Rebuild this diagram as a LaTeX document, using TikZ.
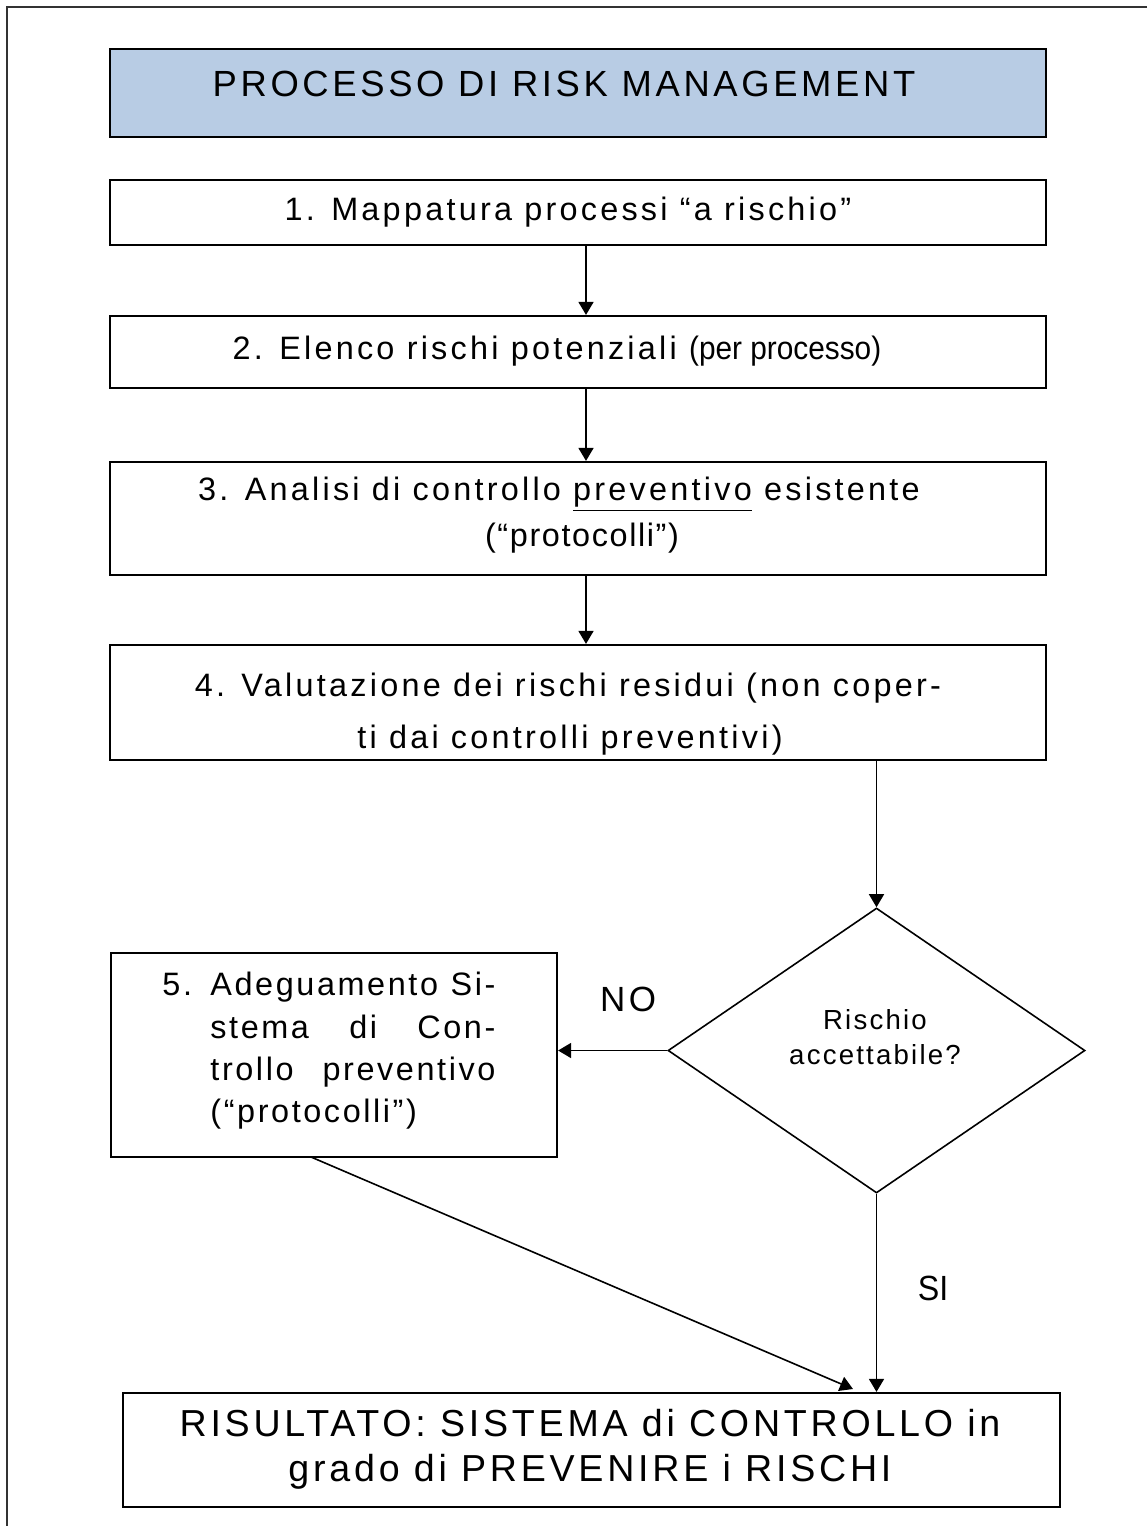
\documentclass[tikz,border=0pt]{standalone}
\usepackage{fontspec}
\setmainfont{Liberation Sans}
\newfontfamily\fsp[LetterSpace=10]{Liberation Sans}
\newfontfamily\fspb[LetterSpace=8]{Liberation Sans}
\newfontfamily\fsps[LetterSpace=5]{Liberation Sans}
\newfontfamily\fnar[FakeStretch=0.92]{Liberation Sans}
\usetikzlibrary{arrows.meta,shapes.geometric}
\definecolor{titlebg}{HTML}{B8CCE4}
\tikzset{
  box/.style={draw, line width=1.1pt, rectangle, inner sep=0pt},
  con/.style={line width=0.8pt, -{Triangle[length=6.5pt,width=7.5pt]}},
  txt/.style={inner sep=0pt, align=center, font=\fsp\fontsize{16.2pt}{22pt}\selectfont},
  bigtxt/.style={inner sep=0pt, align=center, font=\fsp\fontsize{18.2pt}{22.5pt}\selectfont},
  restxt/.style={inner sep=0pt, align=center, font=\fsp\fontsize{18.8pt}{22.5pt}\selectfont},
  smalltxt/.style={inner sep=0pt, align=center, font=\fspb\fontsize{13.8pt}{17.5pt}\selectfont},
  frame/.style={line width=1.2pt, black!80}
}
\begin{document}
\begin{tikzpicture}[x=0.5pt,y=-0.5pt]
\useasboundingbox (0,0) rectangle (1147,1526);
\draw[frame] (1147,7) -- (7,7) -- (7,1526);

% title
\node[box, fill=titlebg, minimum width=468pt, minimum height=44pt] (title) at (578,93) {};
\node[bigtxt] (titlet) at (564,84) {PROCESSO DI RISK MANAGEMENT};

% box 1
\node[box, minimum width=468pt, minimum height=32.5pt] (b1) at (578,212.5) {};
\node[txt] (b1t) at (568,212) {1. Mappatura processi “a rischio”};

% box 2
\node[box, minimum width=468pt, minimum height=36pt] (b2) at (578,352) {};
\node[txt] (b2t) at (557,351) {2. Elenco rischi potenziali {\fnar(per processo)}};

% box 3
\node[box, minimum width=468pt, minimum height=56.5pt] (b3) at (578,518.5) {};
\node[txt] (b3a) at (559,494) {3. Analisi di controllo \underline{preventivo} esistente};
\node[txt, font=\fsps\fontsize{16.2pt}{22pt}\selectfont] (b3b) at (582,538) {(“protocolli”)};

% box 4
\node[box, minimum width=468pt, minimum height=57.5pt] (b4) at (578,702.5) {};
\node[txt] (b4a) at (568,688) {4. Valutazione dei rischi residui (non coper-};
\node[txt] (b4b) at (570,740) {ti dai controlli preventivi)};

% decision
\node[draw, diamond, line width=0.8pt, inner sep=0pt, minimum width=208.5pt, minimum height=142.5pt] (dia) at (876.5,1050.5) {};
\node[smalltxt] (diat) at (875,1037) {Rischio\\accettabile?};

% box 5
\node[box, minimum width=223pt, minimum height=102pt] (b5) at (334,1055) {};
\node[inner sep=0pt, align=left, anchor=west, font=\fspb\fontsize{16.2pt}{21.2pt}\selectfont] (b5t) at (162,1051)
 {\makebox[24pt][l]{5.}\makebox[142.5pt][s]{Adeguamento Si-}\\
  \hspace*{24pt}\makebox[142.5pt][s]{stema di Con-}\\
  \hspace*{24pt}\makebox[142.5pt][s]{trollo preventivo}\\
  \hspace*{24pt}(“protocolli”)};

% result
\node[box, minimum width=468.5pt, minimum height=57pt] (res) at (591.5,1450) {};
\node[restxt] (rest) at (590,1449.5) {RISULTATO: SISTEMA di CONTROLLO in\\grado di PREVENIRE i RISCHI};

% connectors
\coordinate (ax) at (586,0);
\draw[con] (b1.south -| ax) -- (b2.north -| ax);
\draw[con] (b2.south -| ax) -- (b3.north -| ax);
\draw[con] (b3.south -| ax) -- (b4.north -| ax);
\draw[con] (b4.south -| dia.north) -- (dia.north);
\draw[con] (dia.west) -- (dia.west -| b5.east);
\coordinate (b5out) at (311,1157);
\coordinate (resin) at (853,1389);
\draw[con] (b5out) -- (resin);
\draw[con] (dia.south) -- (dia.south |- res.north);

\node[txt, font=\fsp\fontsize{17.5pt}{20pt}\selectfont] (no) at (628,999) {NO};
\node[txt, font=\fnar\fontsize{17.5pt}{20pt}\selectfont] (si) at (933,1288) {SI};
\end{tikzpicture}
\end{document}
